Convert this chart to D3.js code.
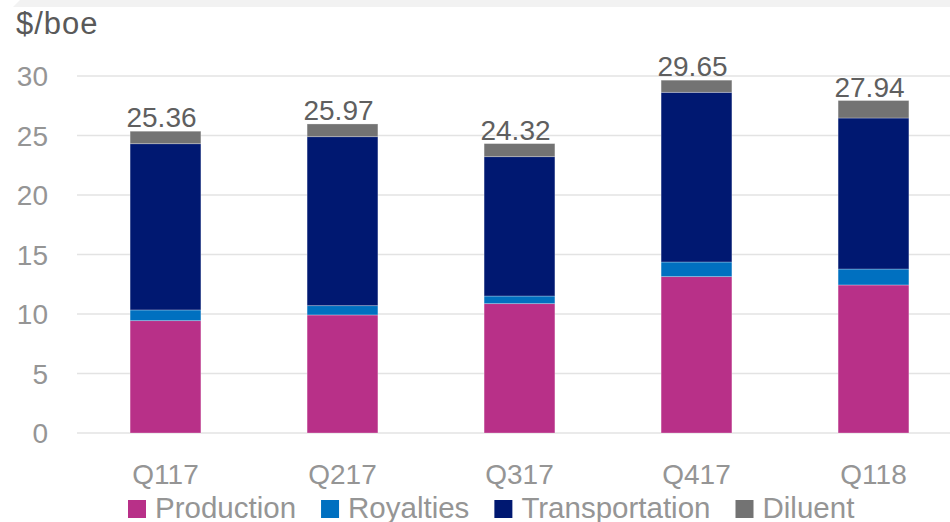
<!DOCTYPE html>
<html>
<head>
<meta charset="utf-8">
<script src="https://cdn.jsdelivr.net/npm/d3@7"></script>
<style>
  body { margin: 0; background: #fff; }
  svg { display: block; font-family: "Liberation Sans", Arial, sans-serif; }
</style>
</head>
<body>
<script>
const quarters = ["Q117", "Q217", "Q317", "Q417", "Q118"];
const production = [9.44, 9.92, 10.87, 13.14, 12.44];
const royalties = [0.90, 0.78, 0.64, 1.23, 1.34];
const transportation = [13.97, 14.20, 11.71, 14.26, 12.69];
const diluent = [1.05, 1.07, 1.10, 1.02, 1.47];
const totals = [25.36, 25.97, 24.32, 29.65, 27.94];
const seriesNames = ["Production", "Royalties", "Transportation", "Diluent"];
const seriesColors = ["#b83088", "#0070c0", "#001871", "#737373"];
const yTicks = [0, 5, 10, 15, 20, 25, 30];

const width = 950, height = 522;

const svg = d3.select("body").append("svg")
  .attr("width", width)
  .attr("height", height);

// light band across the top
svg.append("path")
  .attr("d", "M20,0 L950,0 L950,7 L13,7 Z")
  .style("fill", "#f2f2f2");

const x = d3.scaleBand()
  .domain(quarters)
  .range([77, 962])
  .paddingInner(0.6)
  .paddingOuter(0.3);

const y = d3.scaleLinear()
  .domain([0, 30])
  .range([433, 76]);

// gridlines
svg.append("g").selectAll("line").data(yTicks).enter().append("line")
  .attr("x1", 77)
  .attr("x2", width)
  .attr("y1", d => y(d))
  .attr("y2", d => y(d))
  .style("stroke", "#e3e3e3")
  .style("stroke-width", 1.5);

// y tick labels
svg.append("g").selectAll("text").data(yTicks).enter().append("text")
  .attr("x", 48)
  .attr("y", d => y(d))
  .attr("dy", "0.36em")
  .attr("text-anchor", "end")
  .style("font-size", "28px")
  .style("fill", "#959595")
  .text(d => d);

svg.append("text")
  .attr("x", 16)
  .attr("y", 34)
  .style("font-size", "31px")
  .style("letter-spacing", "1px")
  .style("fill", "#595959")
  .text("$/boe");

const rows = quarters.map((q, i) => ({
  quarter: q,
  Production: production[i],
  Royalties: royalties[i],
  Transportation: transportation[i],
  Diluent: diluent[i]
}));

const stacked = d3.stack().keys(seriesNames)(rows);

svg.append("g").selectAll("g").data(stacked).enter().append("g")
  .style("fill", (d, i) => seriesColors[i])
  .selectAll("rect").data(d => d).enter().append("rect")
  .attr("x", d => x(d.data.quarter))
  .attr("width", x.bandwidth())
  .attr("y", d => y(d[1]))
  .attr("height", d => y(d[0]) - y(d[1]))
  .style("stroke", "rgba(255,255,255,0.35)")
  .style("stroke-width", 0.8);

// total labels
svg.append("g").selectAll("text").data(quarters).enter().append("text")
  .attr("x", (d) => x(d) + x.bandwidth() / 2 - 4)
  .attr("y", (d, i) => y(totals[i]) - 4)
  .attr("text-anchor", "middle")
  .style("font-size", "28px")
  .style("fill", "#5f5f5f")
  .text((d, i) => totals[i].toFixed(2));

// x labels
svg.append("g").selectAll("text").data(quarters).enter().append("text")
  .attr("x", d => x(d) + x.bandwidth() / 2)
  .attr("y", 484)
  .attr("text-anchor", "middle")
  .style("font-size", "28px")
  .style("fill", "#959595")
  .text(d => d);

// legend
const legend = svg.append("g");
let lx = 128;
seriesNames.forEach((name, i) => {
  legend.append("rect")
    .attr("x", lx)
    .attr("y", 500)
    .attr("width", 18)
    .attr("height", 18)
    .style("fill", seriesColors[i]);
  const t = legend.append("text")
    .attr("x", lx + 27)
    .attr("y", 518)
    .style("font-size", "29.5px")
    .style("fill", "#959595")
    .text(name);
  lx += 27 + t.node().getComputedTextLength() + 25;
});
</script>
</body>
</html>
